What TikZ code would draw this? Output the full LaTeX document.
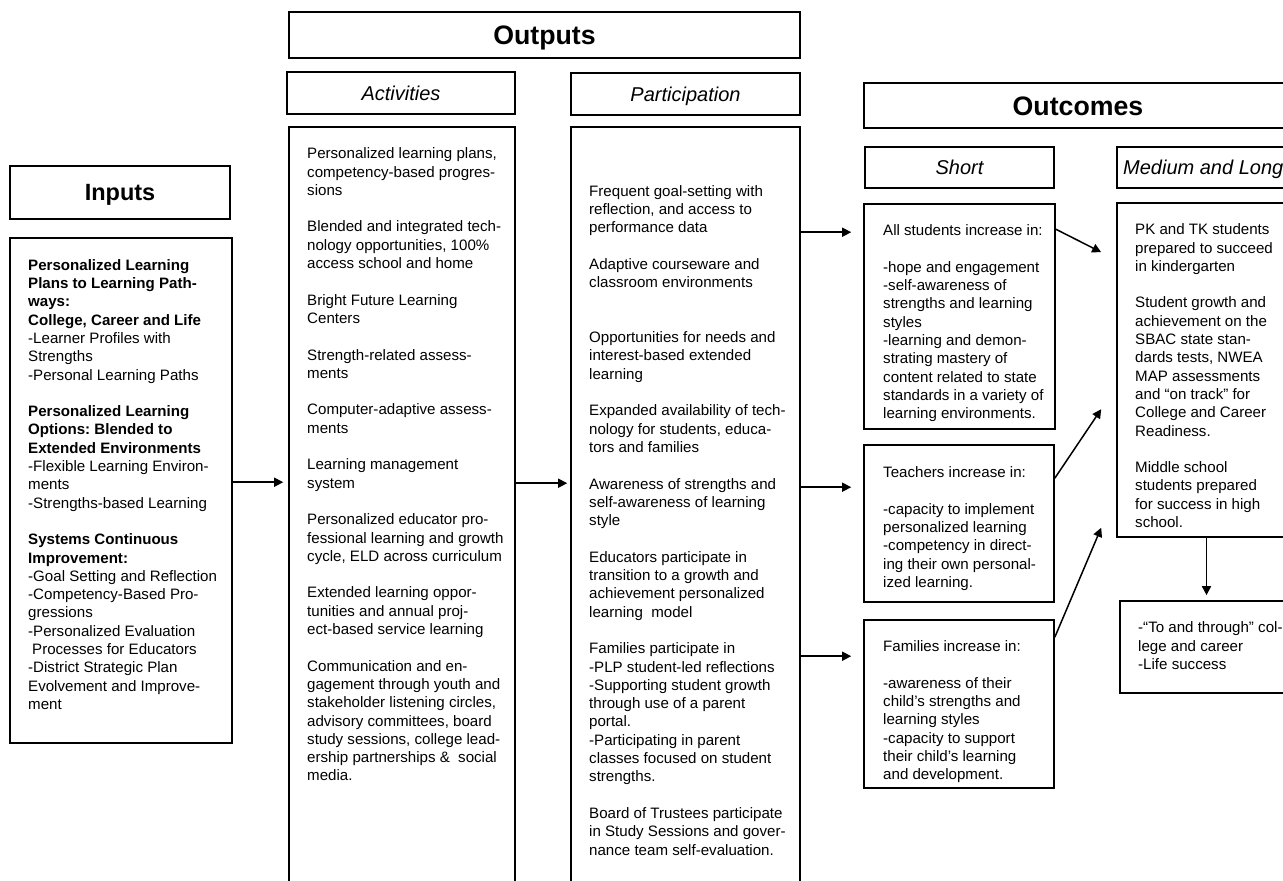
\documentclass[tikz,border=0pt]{standalone}
\usepackage{fontspec}
\setmainfont{Liberation Sans}
\usetikzlibrary{arrows.meta}
\frenchspacing
\newcommand\bodyfont{\fontsize{15.1}{18.3}\selectfont}
\newcommand\gap{\\[18.3pt]}
\tikzset{
  box/.style={draw, line width=1.6pt, inner sep=0pt},
  bigtitle/.style={box, font=\bfseries\fontsize{26.7}{30}\selectfont, text height=19.1pt, text depth=0pt},
  intitlestyle/.style={box, font=\bfseries\fontsize{23.5}{27}\selectfont, text height=16.8pt, text depth=0pt},
  subtitle/.style={box, font=\itshape\fontsize{20}{24}\selectfont, text height=14.3pt, text depth=0pt},
  txt/.style={anchor=north west, inner sep=0pt, align=left, font=\bodyfont},
  arr/.style={line width=1.5pt, -{Triangle[length=9pt,width=9pt]}}
}
\begin{document}
\begin{tikzpicture}[x=1pt,y=-1pt]
\useasboundingbox (0,0) rectangle (1283,881);
\clip (0,0) rectangle (1283,881);
\fill[white] (0,0) rectangle (1283,881);

% Inputs
\node[intitlestyle, minimum width=220pt, minimum height=53pt] (intitle) at (120,192.5) {Inputs};
\node[box, minimum width=222pt, minimum height=505pt] (inbody) at (121,490.5) {};
\node[txt] (intext) at (28,257.2) {\strut\textbf{Personalized Learning}\\
\textbf{Plans to Learning Path-}\\
\textbf{ways:}\\
\textbf{College, Career and Life}\\
-Learner Profiles with\\
Strengths\\
-Personal Learning Paths\gap
\textbf{Personalized Learning}\\
\textbf{Options: Blended to}\\
\textbf{Extended Environments}\\
-Flexible Learning Environ-\\
ments\\
-Strengths-based Learning\gap
\textbf{Systems Continuous}\\
\textbf{Improvement:}\\
-Goal Setting and Reflection\\
-Competency-Based Pro-\\
gressions\\
-Personalized Evaluation\\
\hspace{4pt}Processes for Educators\\
-District Strategic Plan\\
Evolvement and Improve-\\
ment};

% Outputs
\node[bigtitle, minimum width=511pt, minimum height=46pt] (outtitle) at (544.5,35) {Outputs};
\node[subtitle, minimum width=228pt, minimum height=42pt] (acttitle) at (401,93) {Activities};
\node[subtitle, minimum width=229pt, minimum height=42pt] (parttitle) at (685.5,94) {Participation};
\node[box, minimum width=226pt, minimum height=778pt] (actbody) at (402,516) {};
\node[box, minimum width=229pt, minimum height=778pt] (partbody) at (685.5,516) {};

\node[txt] (acttext) at (307,145.7) {\strut Personalized learning plans,\\ competency-based progres-\\ sions\gap
Blended and integrated tech-\\ nology opportunities, 100\%\\ access school and home\gap
Bright Future Learning\\ Centers\gap
Strength-related assess-\\ ments\gap
Computer-adaptive assess-\\ ments\gap
Learning management\\ system\gap
Personalized educator pro-\\ fessional learning and growth\\ cycle, ELD across curriculum\gap
Extended learning oppor-\\ tunities and annual proj-\\ ect-based service learning\gap
Communication and en-\\ gagement through youth and\\ stakeholder listening circles,\\ advisory committees, board\\ study sessions, college lead-\\ ership partnerships \&\ \ social\\ media.};

\node[txt] (parttext) at (589,183.2) {\strut Frequent goal-setting with\\ reflection, and access to\\ performance data\gap
Adaptive courseware and\\ classroom environments\\[36.6pt]
Opportunities for needs and\\ interest-based extended\\ learning\gap
Expanded availability of tech-\\ nology for students, educa-\\ tors and families\gap
Awareness of strengths and\\ self-awareness of learning\\ style\gap
Educators participate in\\ transition to a growth and\\ achievement personalized\\ learning\ \ model\gap
Families participate in\\ -PLP student-led reflections\\ -Supporting student growth\\ through use of a parent\\ portal.\\ -Participating in parent\\ classes focused on student\\ strengths.\gap
Board of Trustees participate\\ in Study Sessions and gover-\\ nance team self-evaluation.};

% Outcomes
\node[bigtitle, minimum width=428pt, minimum height=45pt] (octitle) at (1078,105.5) {Outcomes};
\node[subtitle, minimum width=189pt, minimum height=41pt] (shorttitle) at (959.5,167.5) {Short};
\node[box, minimum width=193pt, minimum height=41pt] (medtitle) at (1213.5,167.5) {};
\node[anchor=base west, inner sep=0pt, font=\itshape\fontsize{20}{24}\selectfont] (medtext) at (1123,174.5) {Medium and Long};

\node[box, minimum width=191pt, minimum height=225pt] (s1) at (959.5,316.5) {};
\node[box, minimum width=190pt, minimum height=157pt] (s2) at (959,523.5) {};
\node[box, minimum width=190pt, minimum height=168pt] (s3) at (959,704) {};
\node[box, minimum width=193pt, minimum height=334pt] (med) at (1213.5,370) {};
\node[box, minimum width=190pt, minimum height=92pt] (fin) at (1215,647) {};

\node[txt] (s1text) at (883,222.7) {\strut All students increase in:\gap -hope and engagement\\ -self-awareness of\\ strengths and learning\\ styles\\ -learning and demon-\\ strating mastery of\\ content related to state\\ standards in a variety of\\ learning environments.};
\node[txt] (s2text) at (883,464.7) {\strut Teachers increase in:\gap -capacity to implement\\ personalized learning\\ -competency in direct-\\ ing their own personal-\\ ized learning.};
\node[txt] (s3text) at (883,638.7) {\strut Families increase in:\gap -awareness of their\\ child’s strengths and\\ learning styles\\ -capacity to support\\ their child’s learning\\ and development.};
\node[txt] (medtxt) at (1135,221.7) {\strut PK and TK students\\ prepared to succeed\\ in kindergarten\gap Student growth and\\ achievement on the\\ SBAC state stan-\\ dards tests, NWEA\\ MAP assessments\\ and “on track” for\\ College and Career\\ Readiness.\gap Middle school\\ students prepared\\ for success in high\\ school.};
\node[txt] (fintext) at (1138,619.7) {\strut -“To and through” col-\\ lege and career\\ -Life success};

% Connectors
\draw[arr, shorten >=5pt] ([yshift=-245pt]inbody.north east) -- ([yshift=-245pt]inbody.north east -| actbody.west);
\draw[arr, shorten >=3pt] ([yshift=-357pt]actbody.north east) -- ([yshift=-357pt]actbody.north east -| partbody.west);
\draw[arr, shorten >=12pt] ([yshift=-106pt]partbody.north east) -- ([yshift=-106pt]partbody.north east -| s1.west);
\draw[arr, shorten >=12pt] ([yshift=-361pt]partbody.north east) -- ([yshift=-361pt]partbody.north east -| s2.west);
\draw[arr, shorten >=12pt] ([yshift=-530pt]partbody.north east) -- ([yshift=-530pt]partbody.north east -| s3.west);
\draw[arr] ([yshift=-26pt]s1.north east) -- ([xshift=-15pt,yshift=-50pt]med.north west);
\draw[arr] ([yshift=-34pt]s2.north east) -- ([xshift=-15pt,yshift=-207pt]med.north west);
\draw[arr] ([yshift=-18pt]s3.north east) -- ([xshift=-15pt,yshift=10pt]med.south west);
\draw[arr, shorten >=5pt] ([xshift=-7pt]med.south) -- ([xshift=-7pt]med.south |- fin.north);
\end{tikzpicture}
\end{document}
